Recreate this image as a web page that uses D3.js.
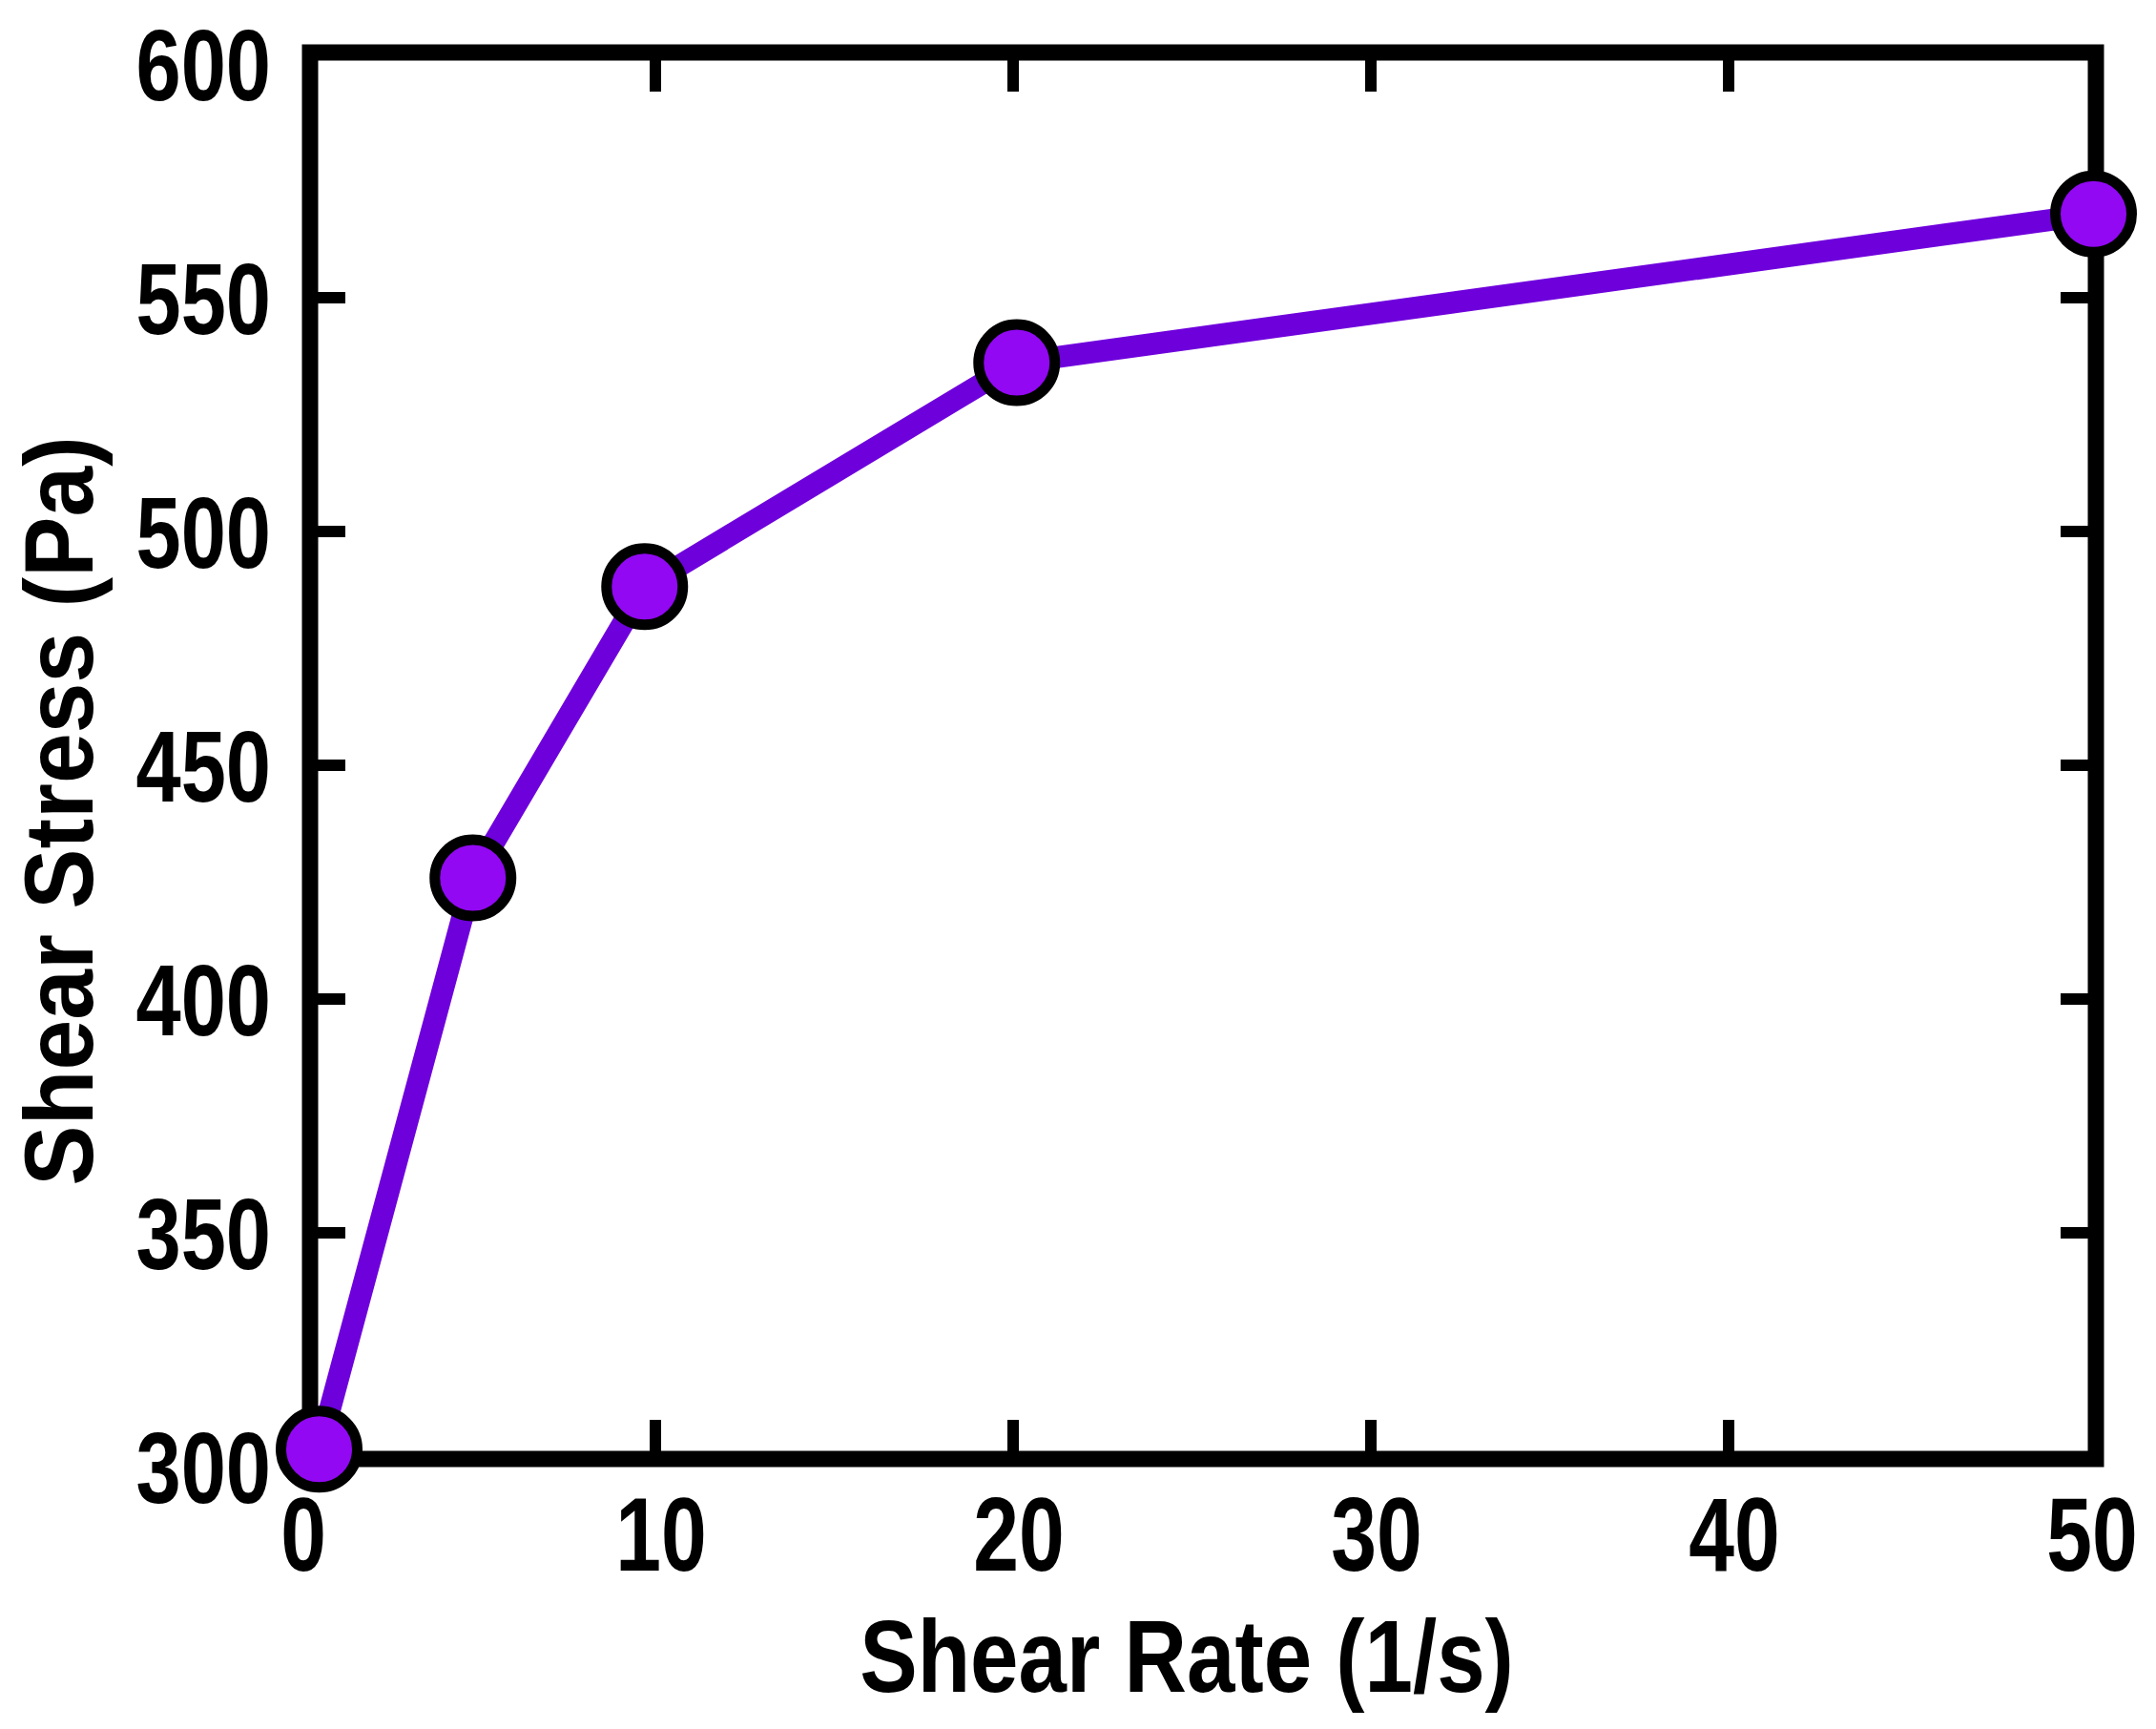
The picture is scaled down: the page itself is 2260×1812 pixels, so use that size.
<!DOCTYPE html>
<html>
<head>
<meta charset="utf-8">
<script src="https://cdnjs.cloudflare.com/ajax/libs/d3/7.8.5/d3.min.js"></script>
<style>
  body { margin: 0; background: #fff; }
  text { font-family: "Liberation Sans", Arial, sans-serif; font-weight: bold; fill: #000; }
</style>
</head>
<body>
<svg id="svg" width="2260" height="1812"></svg>
<script>
// values
var shearRate = [0.6, 4.9, 9.7, 20.1, 50.2];
var shearStress = [303.7, 425.9, 488.2, 536.1, 567.9];
var xTicks = [0, 10, 20, 30, 40, 50];
var yTicks = [300, 350, 400, 450, 500, 550, 600];
var xTitle = "Shear Rate (1/s)";
var yTitle = "Shear Stress (Pa)";

// condensed bold text: no narrow face installed, so squeeze it horizontally
function squeezed(parent, px, py, sx, size, anchor, str, rot) {
  var g = parent.append("g")
    .attr("transform", "translate(" + px + "," + py + ")" + (rot ? " rotate(" + rot + ")" : "") + " scale(" + sx + ",1)");
  return g.append("text")
    .attr("font-size", size)
    .attr("text-anchor", anchor)
    .text(str);
}

function drawShearGraph() {
  var svg = d3.select("#svg"),
    frame = {left: 325, right: 2197, top: 55, bottom: 1529};

  var data = shearRate.map(function (d, i) {
    return {rate: d, stress: shearStress[i]};
  });

  var x = d3.scaleLinear().domain([0, 50]).range([312, 2187]),
      y = d3.scaleLinear().domain([300, 600]).range([1537, 67]);

  var inner = function (t, lo, hi) { return t > lo && t < hi; };

  // tick marks on all four sides, pointing inward
  var tickLen = 41;
  var ticks = svg.append("g")
    .attr("stroke", "#000")
    .attr("stroke-width", 12);

  xTicks.filter(function (t) { return inner(t, 0, 50); }).forEach(function (t) {
    ticks.append("line").attr("x1", x(t)).attr("x2", x(t))
      .attr("y1", frame.bottom).attr("y2", frame.bottom - tickLen);
    ticks.append("line").attr("x1", x(t)).attr("x2", x(t))
      .attr("y1", frame.top).attr("y2", frame.top + tickLen);
  });
  yTicks.filter(function (t) { return inner(t, 300, 600); }).forEach(function (t) {
    ticks.append("line").attr("y1", y(t)).attr("y2", y(t))
      .attr("x1", frame.left).attr("x2", frame.left + tickLen - 4);
    ticks.append("line").attr("y1", y(t)).attr("y2", y(t))
      .attr("x1", frame.right).attr("x2", frame.right - tickLen + 4);
  });

  svg.append("rect")
    .attr("x", frame.left)
    .attr("y", frame.top)
    .attr("width", frame.right - frame.left)
    .attr("height", frame.bottom - frame.top)
    .attr("fill", "none")
    .attr("stroke", "#000")
    .attr("stroke-width", 17);

  // tick labels
  var labels = svg.append("g");
  xTicks.forEach(function (t) {
    squeezed(labels, x(t) + 6, 1646, 0.78, 110, "middle", t);
  });
  yTicks.forEach(function (t) {
    squeezed(labels, 284, y(t), 0.8, 106, "end", t).attr("dy", "0.36em");
  });

  // axis titles
  squeezed(svg, 1244, 1773, 0.84, 108, "middle", xTitle);
  squeezed(svg, 97, 850, 0.93, 102, "middle", yTitle, -90);

  var line = d3.line()
    .x(function (d) { return x(d.rate); })
    .y(function (d) { return y(d.stress); });

  svg.append("path")
    .datum(data)
    .attr("d", line)
    .attr("fill", "none")
    .attr("stroke", "#6e00dc")
    .attr("stroke-width", 23)
    .attr("stroke-linejoin", "round");

  svg.append("g")
    .selectAll("circle")
    .data(data)
    .enter()
    .append("circle")
    .attr("cx", function (d) { return x(d.rate); })
    .attr("cy", function (d) { return y(d.stress); })
    .attr("r", 40)
    .attr("fill", "#9208f3")
    .attr("stroke", "#000")
    .attr("stroke-width", 11);
}

drawShearGraph();
</script>
</body>
</html>
